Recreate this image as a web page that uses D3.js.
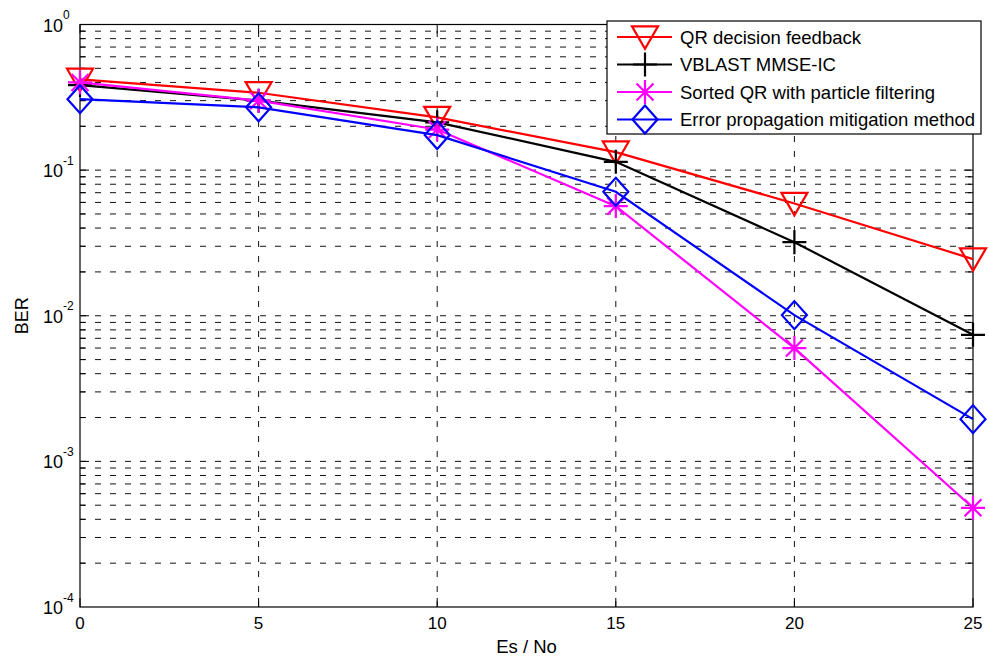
<!DOCTYPE html>
<html>
<head>
<meta charset="utf-8">
<script src="https://cdn.jsdelivr.net/npm/d3@7/dist/d3.min.js"></script>
<style>
  body { margin: 0; background: #fff; }
  text { font-family: "Liberation Sans", Arial, sans-serif; }
</style>
</head>
<body>
<svg id="chart"></svg>
<script>
var w = 989, h = 662;
var margin = { top: 24.5, right: 16, bottom: 55, left: 80 };

// data
var snr = [0, 5, 10, 15, 20, 25];
var qrDF = [0.42, 0.34, 0.23, 0.133, 0.059, 0.0245];
var vblast = [0.384, 0.30, 0.213, 0.114, 0.032, 0.0074];
var sortedQR = [0.40, 0.30, 0.19, 0.0566, 0.006, 0.00048];
var errProp = [0.307, 0.27, 0.174, 0.071, 0.0101, 0.00195];
var seriesNames = ["QR decision feedback", "VBLAST MMSE-IC", "Sorted QR with particle filtering", "Error propagation mitigation method"];
var seriesColors = ["#ff0000", "#000000", "#ff00ff", "#0000ff"];
var seriesMarkers = ["tri", "plus", "star", "diamond"];
var xTicks = [0, 5, 10, 15, 20, 25];
var yExps = [0, -1, -2, -3, -4];

var series = [qrDF, vblast, sortedQR, errProp].map(function(v, i) {
  return { name: seriesNames[i], color: seriesColors[i], marker: seriesMarkers[i], values: v };
});

var svg = d3.select("#chart").attr("width", w).attr("height", h);

var x = d3.scaleLinear().domain([0, 25]).range([margin.left, w - margin.right]);
var y = d3.scaleLog().domain([1e-4, 1]).range([h - margin.bottom, margin.top]);

var x0 = x.range()[0], x1 = x.range()[1], yb = y.range()[0], yt = y.range()[1];

// grid lines (major + minor on y, major on x)
var minor = [];
yExps.forEach(function(e) {
  if (e === 0) return;
  for (var k = 1; k <= 9; k++) minor.push(k * Math.pow(10, e));
});
minor = minor.filter(function(v) { return v > 1e-4 && v < 1; });

svg.append("g").selectAll("line")
  .data(minor)
  .enter().append("line")
  .attr("x1", x0).attr("x2", x1)
  .attr("y1", function(d) { return y(d); }).attr("y2", function(d) { return y(d); })
  .attr("stroke", "#111").attr("stroke-width", 1).attr("stroke-dasharray", "6,9");

svg.append("g").selectAll("line")
  .data(xTicks.slice(1, -1))
  .enter().append("line")
  .attr("x1", function(d) { return x(d); }).attr("x2", function(d) { return x(d); })
  .attr("y1", yb).attr("y2", yt)
  .attr("stroke", "#111").attr("stroke-width", 1).attr("stroke-dasharray", "6,9");

// tick marks on all four sides
var tg = svg.append("g").attr("stroke", "#000").attr("stroke-width", 1);
minor.forEach(function(v) {
  var major = Math.abs(Math.log10(v) - Math.round(Math.log10(v))) < 1e-9;
  var len = major ? 9 : 5;
  tg.append("line").attr("x1", x0).attr("x2", x0 + len).attr("y1", y(v)).attr("y2", y(v));
  tg.append("line").attr("x1", x1).attr("x2", x1 - len).attr("y1", y(v)).attr("y2", y(v));
});
xTicks.forEach(function(t) {
  tg.append("line").attr("x1", x(t)).attr("x2", x(t)).attr("y1", yb).attr("y2", yb - 9);
  tg.append("line").attr("x1", x(t)).attr("x2", x(t)).attr("y1", yt).attr("y2", yt + 9);
});

// box
svg.append("rect")
  .attr("x", x0).attr("y", yt).attr("width", x1 - x0).attr("height", yb - yt)
  .attr("fill", "none").attr("stroke", "#000").attr("stroke-width", 1.2);

// x tick labels
svg.append("g").selectAll("text")
  .data(xTicks).enter().append("text")
  .attr("x", function(d) { return x(d); })
  .attr("y", yb + 21.5)
  .attr("text-anchor", "middle")
  .attr("font-size", 17)
  .text(function(d) { return d; });

// y tick labels 10^e
var yl = svg.append("g").selectAll("text")
  .data(yExps).enter().append("text")
  .attr("x", 43)
  .attr("y", function(e) { return y(Math.pow(10, e)) + 7; })
  .attr("font-size", 18);
yl.append("tspan").text("10");
yl.append("tspan").attr("font-size", 12).attr("dy", -12.5).text(function(e) { return e; });

// axis titles
svg.append("text")
  .attr("x", (x0 + x1) / 2).attr("y", 653)
  .attr("text-anchor", "middle").attr("font-size", 18.5)
  .text("Es / No");
svg.append("text")
  .attr("transform", "translate(28," + ((yb + yt) / 2) + ") rotate(-90)")
  .attr("text-anchor", "middle").attr("font-size", 18)
  .text("BER");

// marker paths
function markerPath(type) {
  var s = 13;
  if (type === "tri") return "M" + (-s) + "," + (-s * 0.82) + "L" + s + "," + (-s * 0.82) + "L0," + (s * 0.9) + "Z";
  if (type === "plus") return "M" + (-12) + ",0L12,0M0,-12L0,12";
  if (type === "diamond") return "M0," + (-s - 1) + "L" + (s - 0.5) + ",0L0," + (s + 1) + "L" + (-s + 0.5) + ",0Z";
  if (type === "star") {
    var r = 12, d = r * 0.7071;
    return "M" + (-r) + ",0L" + r + ",0M0," + (-r) + "L0," + r +
      "M" + (-d) + "," + (-d) + "L" + d + "," + d + "M" + (-d) + "," + d + "L" + d + "," + (-d);
  }
}

var line = d3.line()
  .x(function(d, i) { return x(snr[i]); })
  .y(function(d) { return y(d); });

series.forEach(function(s) {
  var g = svg.append("g");
  g.append("path")
    .attr("d", line(s.values))
    .attr("fill", "none").attr("stroke", s.color).attr("stroke-width", 2.2);
  g.selectAll(".mk").data(s.values).enter().append("path")
    .attr("class", "mk")
    .attr("transform", function(d, i) { return "translate(" + x(snr[i]) + "," + y(d) + ")"; })
    .attr("d", markerPath(s.marker))
    .attr("fill", "none").attr("stroke", s.color).attr("stroke-width", 2.2);
});

// legend
var lg = svg.append("g");
lg.append("rect")
  .attr("x", 607).attr("y", 21).attr("width", 374).attr("height", 113)
  .attr("fill", "#fff").attr("stroke", "#000").attr("stroke-width", 1.2);
series.forEach(function(s, i) {
  var cy = 37 + i * 27.5;
  lg.append("line").attr("x1", 617).attr("x2", 672).attr("y1", cy).attr("y2", cy)
    .attr("stroke", s.color).attr("stroke-width", 2.2);
  lg.append("path").attr("transform", "translate(645," + cy + ")")
    .attr("d", markerPath(s.marker))
    .attr("fill", "none").attr("stroke", s.color).attr("stroke-width", 2.2);
  lg.append("text").attr("x", 680).attr("y", cy + 6.5)
    .attr("font-size", 18.5).text(s.name);
});
</script>
</body>
</html>
